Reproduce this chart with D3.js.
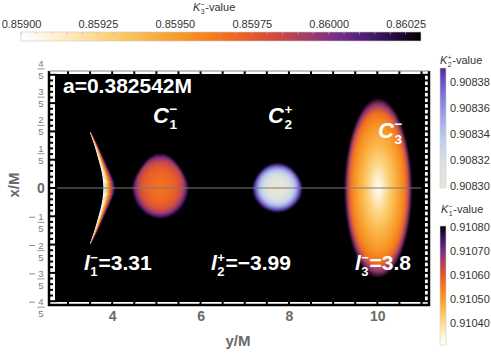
<!DOCTYPE html>
<html>
<head>
<meta charset="utf-8">
<script src="https://cdn.jsdelivr.net/npm/d3@7"></script>
<style>
  body { margin: 0; background: #fff; }
  svg { display: block; font-family: "Liberation Sans", Arial, sans-serif; }
</style>
</head>
<body>
<div id="chart"></div>
<script>
// colour bar ranges and tick labels
const k3Range = [0.859, 0.8603];
const k3Ticks = [0.859, 0.85925, 0.8595, 0.85975, 0.86, 0.86025];
const k2Range = [0.9082985, 0.9083908];
const k2Ticks = [0.9083, 0.90832, 0.90834, 0.90836, 0.90838];
const k1Range = [0.91031, 0.910804];
const k1Ticks = [0.9104, 0.9105, 0.9106, 0.9107, 0.9108];

// plot axes
const xDomain = [2.57, 11.17];   // y/M
const yDomain = [-0.827, 0.827]; // x/M
const xTickLabels = [4, 6, 8, 10];
const yFracNumerators = [4, 3, 2, 1, -1, -2, -3, -4]; // n/5

// blobs of the density plot (C1-, C2+, C3-)
const blobCentre = [5.09, 7.74, 10.02];
const blobHalfWidth = [0.64, 0.56, 0.76];
const blobHalfTop = [0.245, 0.175, 0.635];
const blobHalfBottom = [0.215, 0.17, 0.635];
const blobScaleKey = ["K1", "K2", "K3"];
const blobLevels = [
  [0.91056, 0.91057, 0.91059, 0.91062, 0.91067, 0.91074],
  [0.90830, 0.90830, 0.90832, 0.90834, 0.90837, 0.90839],
  [0.85900, 0.85928, 0.85944, 0.85955, 0.85968, 0.85998]
];

// thin crescent near the left (K1-)
const crescentX = [0.39, 0.3, 0.2, 0.1, 0, -0.1, -0.2, -0.3, -0.39];
const crescentInner = [3.50, 3.60, 3.69, 3.77, 3.80, 3.77, 3.69, 3.60, 3.50];
const crescentOuter = [3.53, 3.68, 3.83, 3.98, 4.08, 3.98, 3.83, 3.68, 3.53];
const crescentLevels = [0.91031, 0.91033, 0.91036, 0.91040, 0.91045, 0.91050,
                        0.91055, 0.91060, 0.91065, 0.91070, 0.91075, 0.91080];

const W = 491, H = 357;
const svg = d3.select("#chart").append("svg").attr("width", W).attr("height", H);
const defs = svg.append("defs");

const sunset = d3.piecewise(d3.interpolateRgb, ["#ffffff", "#fff0cf", "#fddc92", "#fbc35a",
  "#f8a431", "#f6861c", "#ee6424", "#cf4a40", "#9c3a6e", "#66298d", "#331354", "#000000"]);
const lavender = d3.piecewise(d3.interpolateRgb, ["#e9e4d6", "#dfe2de", "#cfdde8", "#b9c9ee",
  "#a3a9ea", "#8b86df", "#6e5ccb", "#4f2a9a"]);

const colorScales = {
  K3: d3.scaleSequential(k3Range, sunset).clamp(true),
  K2: d3.scaleSequential(k2Range, lavender).clamp(true),
  K1: d3.scaleSequential(k1Range, sunset).clamp(true)
};

const xScale = d3.scaleLinear(xDomain, [49, 429]);
const yScale = d3.scaleLinear(yDomain, [305, 71]);

// helper: italic symbol with sub/superscript then trailing text
function richText(parent, x, y, size, main, sub, sup, rest, opts) {
  const g = parent.append("g").attr("fill", opts.fill).attr("font-weight", opts.weight);
  const m = g.append("text").attr("x", x).attr("y", y).attr("font-size", size)
    .attr("font-style", "italic").text(main);
  const w = m.node().getComputedTextLength();
  const s = size * 0.62;
  const a = g.append("text").attr("x", x + w + 0.5).attr("y", y + size * 0.27)
    .attr("font-size", s).text(sub);
  const b = g.append("text").attr("x", x + w + 0.5).attr("y", y - size * 0.4)
    .attr("font-size", s).text(sup);
  const w2 = Math.max(a.node().getComputedTextLength(), b.node().getComputedTextLength());
  if (rest) g.append("text").attr("x", x + w + w2 + 1).attr("y", y)
    .attr("font-size", size).text(rest);
}

// ---------- colour bars ----------
function gradient(id, scale, range, vertical) {
  const lg = defs.append("linearGradient").attr("id", id)
    .attr("x1", 0).attr("y1", vertical ? 1 : 0).attr("x2", vertical ? 0 : 1).attr("y2", 0);
  d3.range(0, 1.0001, 0.05).forEach(t => {
    lg.append("stop").attr("offset", t)
      .attr("stop-color", scale(range[0] + t * (range[1] - range[0])));
  });
}
gradient("gK3", colorScales.K3, k3Range, false);
gradient("gK2", colorScales.K2, k2Range, true);
gradient("gK1", colorScales.K1, k1Range, true);

const fmt = d3.format(".5f");

// top bar
const k3x = d3.scaleLinear(k3Range, [21, 421]);
svg.append("rect").attr("x", 21).attr("y", 32).attr("width", 400).attr("height", 9)
  .attr("fill", "url(#gK3)").attr("stroke", "#c8c8c8").attr("stroke-width", 0.6);
svg.append("g").attr("transform", "translate(0,32)")
  .call(d3.axisTop(k3x).tickValues(k3Ticks).tickFormat(fmt).tickSize(0).tickPadding(4))
  .call(g => g.select(".domain").remove())
  .call(g => g.selectAll("text").attr("font-size", 11).attr("fill", "#333")
    .attr("font-family", null));
svg.append("g").selectAll("line").data(d3.range(0.859, 0.8603, 0.00005)).join("line")
  .attr("x1", d => k3x(d)).attr("x2", d => k3x(d)).attr("y1", 32).attr("y2", 34.5)
  .attr("stroke", "#bbb").attr("stroke-width", 0.6);
richText(svg, 193, 11, 11, "K", "3", "\u2212", "-value", { fill: "#333", weight: "normal" });

// right bars
const k2y = d3.scaleLinear(k2Range, [188, 68]);
svg.append("rect").attr("x", 440).attr("y", 68).attr("width", 6).attr("height", 120)
  .attr("fill", "url(#gK2)").attr("stroke", "#d0d0d0").attr("stroke-width", 0.6);
svg.append("g").attr("transform", "translate(446,0)")
  .call(d3.axisRight(k2y).tickValues(k2Ticks).tickFormat(fmt).tickSize(0).tickPadding(4))
  .call(g => g.select(".domain").remove())
  .call(g => g.selectAll("text").attr("font-size", 11).attr("fill", "#333"));
richText(svg, 440, 64, 11, "K", "2", "+", "-value", { fill: "#333", weight: "normal" });

const k1y = d3.scaleLinear(k1Range, [345, 226]);
svg.append("rect").attr("x", 440).attr("y", 226).attr("width", 6).attr("height", 119)
  .attr("fill", "url(#gK1)").attr("stroke", "#d0d0d0").attr("stroke-width", 0.6);
svg.append("g").attr("transform", "translate(446,0)")
  .call(d3.axisRight(k1y).tickValues(k1Ticks).tickFormat(fmt).tickSize(0).tickPadding(4))
  .call(g => g.select(".domain").remove())
  .call(g => g.selectAll("text").attr("font-size", 11).attr("fill", "#333"));
richText(svg, 441, 213, 11, "K", "1", "\u2212", "-value", { fill: "#333", weight: "normal" });

// ---------- plot frame ----------
const [fl, fr] = xScale.range();
const [fb, ft] = yScale.range();
svg.append("rect").attr("x", fl).attr("y", ft).attr("width", fr - fl).attr("height", fb - ft)
  .attr("fill", "#fff");
svg.append("rect").attr("x", fl + 6).attr("y", ft + 3).attr("width", fr - fl - 10)
  .attr("height", fb - ft - 6).attr("fill", "#000");

const plot = svg.append("g");
const clip = defs.append("clipPath").attr("id", "plotClip");
clip.append("rect").attr("x", fl + 6).attr("y", ft + 3).attr("width", fr - fl - 10)
  .attr("height", fb - ft - 6);
plot.attr("clip-path", "url(#plotClip)");

// blur for smooth density look
function softFilter(id, sd) {
  const f = defs.append("filter").attr("id", id).attr("x", "-20%").attr("y", "-20%")
    .attr("width", "140%").attr("height", "140%");
  f.append("feGaussianBlur").attr("stdDeviation", sd);
}
softFilter("soft", 1.1);
softFilter("softThin", 0.5);

// crescent bands
const crescent = crescentX.map((x, i) => ({ x, inner: crescentInner[i], outer: crescentOuter[i] }));
const nb = crescentLevels.length;
const cg = plot.append("g").attr("filter", "url(#softThin)");
crescentLevels.forEach((k, i) => {
  const f0 = i / nb, f1 = (i + 1) / nb;
  const area = d3.area()
    .y(d => yScale(d.x))
    .x0(d => xScale(d.inner + f0 * (d.outer - d.inner)))
    .x1(d => xScale(d.inner + f1 * (d.outer - d.inner)) + 0.4)
    .curve(d3.curveNatural);
  cg.append("path").attr("d", area(crescent)).attr("fill", colorScales.K1(k));
});

// blobs
const stopOffsets = [0, 0.3, 0.55, 0.72, 0.84, 0.93];
const blobTaper = [0.32, 0.2, 0.08];
blobCentre.forEach((c, i) => {
  const cx = xScale(c), cy = yScale(0);
  const hw = xScale(c + blobHalfWidth[i]) - cx;
  const ht = cy - yScale(blobHalfTop[i]);
  const hb = yScale(-blobHalfBottom[i]) - cy;
  const pts = d3.range(0, 2 * Math.PI, Math.PI / 60).map(a => {
    const s = Math.sin(a), co = Math.cos(a);
    const up = s < 0 ? -s : 0;
    return [cx + hw * co * (1 - blobTaper[i] * up), cy + (s < 0 ? ht : hb) * s];
  });
  const rg = defs.append("radialGradient").attr("id", "blob" + i)
    .attr("cx", 0.5).attr("cy", 0.5).attr("r", 0.5)
    .attr("fx", 0.5).attr("fy", ht / (ht + hb));
  const sc = colorScales[blobScaleKey[i]];
  blobLevels[i].forEach((k, j) => {
    rg.append("stop").attr("offset", stopOffsets[j]).attr("stop-color", sc(k));
  });
  rg.append("stop").attr("offset", 1).attr("stop-color", "#000");
  plot.append("path").attr("d", d3.line().curve(d3.curveLinearClosed)(pts))
    .attr("fill", `url(#blob${i})`).attr("filter", "url(#soft)");
});

// zero line
plot.append("line").attr("x1", fl).attr("x2", fr).attr("y1", yScale(0)).attr("y2", yScale(0))
  .attr("stroke", "#7a7a7a").attr("stroke-width", 1);

// frame ticks
const xMinor = d3.range(6, 23).map(i => i / 2);
const yMinor = d3.range(-20, 21).map(i => i * 0.04);
const ticks = svg.append("g").attr("stroke", "#000").attr("stroke-width", 2);
xMinor.forEach(v => {
  const L = v % 2 === 0 ? 8 : 5;
  ticks.append("line").attr("x1", xScale(v)).attr("x2", xScale(v)).attr("y1", fb).attr("y2", fb - L);
  ticks.append("line").attr("x1", xScale(v)).attr("x2", xScale(v)).attr("y1", ft).attr("y2", ft + L);
});
yMinor.forEach((v, i) => {
  const major = (i % 5) === 0;
  ticks.append("line").attr("y1", yScale(v)).attr("y2", yScale(v))
    .attr("x1", fl).attr("x2", fl + (major ? 8 : 4));
  ticks.append("line").attr("y1", yScale(v)).attr("y2", yScale(v))
    .attr("x1", fr).attr("x2", fr - (major ? 8 : 5));
});
svg.append("path")
  .attr("d", `M${fr},${ft}V${fb}H${fl}V${ft}`)
  .attr("fill", "none").attr("stroke", "#000").attr("stroke-width", 2.5);
svg.append("line").attr("x1", fl).attr("x2", fr).attr("y1", ft).attr("y2", ft)
  .attr("stroke", "#888").attr("stroke-width", 1.2);

// x labels
svg.append("g").attr("transform", `translate(0,${fb})`)
  .call(d3.axisBottom(xScale).tickValues(xTickLabels).tickSize(0).tickPadding(6))
  .call(g => g.select(".domain").remove())
  .call(g => g.selectAll("text").attr("font-size", 14).attr("font-weight", "bold")
    .attr("fill", "#6a6a6a").attr("font-family", null));
svg.append("text").attr("x", 238).attr("y", 346).attr("text-anchor", "middle")
  .attr("font-size", 15).attr("font-weight", "bold").attr("fill", "#6a6a6a").text("y/M");
svg.append("text").attr("transform", `translate(19,${yScale(0) - 3}) rotate(-90)`)
  .attr("text-anchor", "middle").attr("font-size", 15).attr("font-weight", "bold")
  .attr("fill", "#6a6a6a").text("x/M");

// y labels (fractions)
const yl = svg.append("g").attr("fill", "#7a7a7a");
yl.append("text").attr("x", 41).attr("y", yScale(0) + 5).attr("text-anchor", "middle")
  .attr("font-size", 14).attr("font-weight", "bold").attr("fill", "#6a6a6a").text("0");
yFracNumerators.forEach(n => {
  const ty = yScale(n / 5);
  const bar = n > 0 ? ty - 6 : ty + 6;
  yl.append("text").attr("x", 41).attr("y", bar - 2).attr("text-anchor", "middle")
    .attr("font-size", 9.5).text(Math.abs(n));
  yl.append("line").attr("x1", 37.5).attr("x2", 44.5).attr("y1", bar).attr("y2", bar)
    .attr("stroke", "#8a8a8a").attr("stroke-width", 0.9);
  yl.append("text").attr("x", 41).attr("y", bar + 10).attr("text-anchor", "middle")
    .attr("font-size", 9.5).text(5);
  if (n < 0) {
    yl.append("line").attr("x1", 29).attr("x2", 35).attr("y1", bar - 5).attr("y2", bar - 5)
      .attr("stroke", "#8a8a8a").attr("stroke-width", 1);
  }
});

// annotations
const white = { fill: "#fff", weight: "bold" };
svg.append("text").attr("x", 63).attr("y", 93).attr("font-size", 21).attr("font-weight", "bold")
  .attr("fill", "#fff").text("a=0.382542M");
richText(svg, 153, 123, 22, "C", "1", "\u2212", "", white);
richText(svg, 268, 123, 22, "C", "2", "+", "", white);
richText(svg, 378, 138, 22, "C", "3", "\u2212", "", white);
richText(svg, 84, 270, 21, "l", "1", "\u2212", "=3.31", white);
richText(svg, 211, 270, 21, "l", "2", "+", "=\u22123.99", white);
richText(svg, 355, 270, 21, "l", "3", "\u2212", "=3.8", white);
</script>
</body>
</html>
